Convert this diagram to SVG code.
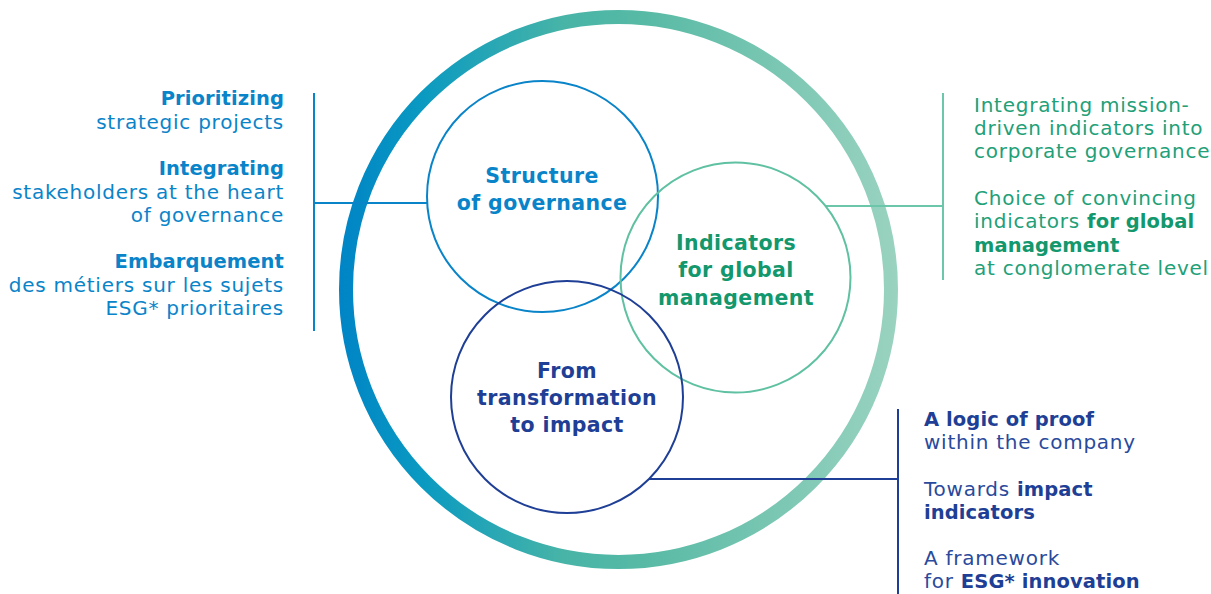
<svg xmlns="http://www.w3.org/2000/svg" width="1211" height="594" viewBox="0 0 1211 594">
  <style>
    text { font-family: "DejaVu Sans", "Liberation Sans", sans-serif; }
    .body { font-size: 20px; letter-spacing: 0.75px; }
    .b { font-weight: bold; font-size: 19.5px; letter-spacing: 0.1px; }
    .label { font-size: 20.5px; font-weight: bold; letter-spacing: 0.4px; text-anchor: middle; }
    .blue { fill: #0a84c9; }
    .green { fill: #22a078; }
    .greenDark { fill: #13976c; }
    .navy { fill: #2a4a9c; }
    .navyDark { fill: #1e3f95; }
    .ring-small { fill: none; stroke-width: 2; }
    .conn { fill: none; stroke-width: 2; }
  </style>
  <defs>
    <linearGradient id="ringGrad" gradientUnits="userSpaceOnUse" x1="339" y1="0" x2="898" y2="0">
      <stop offset="0" stop-color="#0084c6"/>
      <stop offset="0.15" stop-color="#0a9ac1"/>
      <stop offset="0.4" stop-color="#47b4a7"/>
      <stop offset="0.55" stop-color="#58baa5"/>
      <stop offset="1" stop-color="#9ad3c0"/>
    </linearGradient>
  </defs>

  <!-- outer gradient ring -->
  <g id="outer-ring">
    <circle cx="618.5" cy="289.5" r="272.5" fill="none" stroke="url(#ringGrad)" stroke-width="14"/>
  </g>

  <!-- connectors: brackets and leader lines -->
  <g id="connectors">
    <path class="conn" stroke="#0a84c9" d="M314 93 V331 M314 203 H427"/>
    <path class="conn" stroke="#6cc6a9" d="M943 93 V280 M826 206 H943"/>
    <path class="conn" stroke="#1e3f95" d="M898 409 V594 M649 479 H898"/>
  </g>

  <!-- node: structure of governance -->
  <g id="node-structure">
    <circle class="ring-small" cx="542.5" cy="196.5" r="115.5" stroke="#0a84c9"/>
    <text class="label blue" x="542" y="183">Structure</text>
    <text class="label blue" x="542" y="210">of governance</text>
  </g>

  <!-- node: indicators for global management -->
  <g id="node-indicators">
    <circle class="ring-small" cx="735.5" cy="277.5" r="115" stroke="#5fc1a2"/>
    <text class="label greenDark" x="736" y="250">Indicators</text>
    <text class="label greenDark" x="736" y="277">for global</text>
    <text class="label greenDark" x="736" y="305">management</text>
  </g>

  <!-- node: from transformation to impact -->
  <g id="node-impact">
    <circle class="ring-small" cx="567" cy="397" r="116" stroke="#1e3f95"/>
    <text class="label navyDark" x="567" y="378">From</text>
    <text class="label navyDark" x="567" y="405">transformation</text>
    <text class="label navyDark" x="567" y="432">to impact</text>
  </g>

  <!-- left text block -->
  <g id="notes-governance" class="body blue" text-anchor="end">
    <text x="284" y="105" class="b">Prioritizing</text>
    <text x="284" y="128.5">strategic projects</text>
    <text x="284" y="175" class="b">Integrating</text>
    <text x="284" y="198.5">stakeholders at the heart</text>
    <text x="284" y="222">of governance</text>
    <text x="284" y="268" class="b">Embarquement</text>
    <text x="284" y="292">des métiers sur les sujets</text>
    <text x="284" y="315">ESG* prioritaires</text>
  </g>

  <!-- right upper text block -->
  <g id="notes-indicators" class="body green">
    <text x="974" y="112">Integrating mission-</text>
    <text x="974" y="135">driven indicators into</text>
    <text x="974" y="158">corporate governance</text>
    <text x="974" y="205">Choice of convincing</text>
    <text x="974" y="228">indicators <tspan class="b greenDark">for global</tspan></text>
    <text x="974" y="252" class="b greenDark">management</text>
    <text x="974" y="275">at conglomerate level</text>
  </g>

  <!-- right lower text block -->
  <g id="notes-impact" class="body navy">
    <text x="924" y="426" class="b navyDark">A logic of proof</text>
    <text x="924" y="449">within the company</text>
    <text x="924" y="496">Towards <tspan class="b navyDark">impact</tspan></text>
    <text x="924" y="519" class="b navyDark">indicators</text>
    <text x="924" y="565">A framework</text>
    <text x="924" y="588">for <tspan class="b navyDark">ESG* innovation</tspan></text>
  </g>
</svg>
